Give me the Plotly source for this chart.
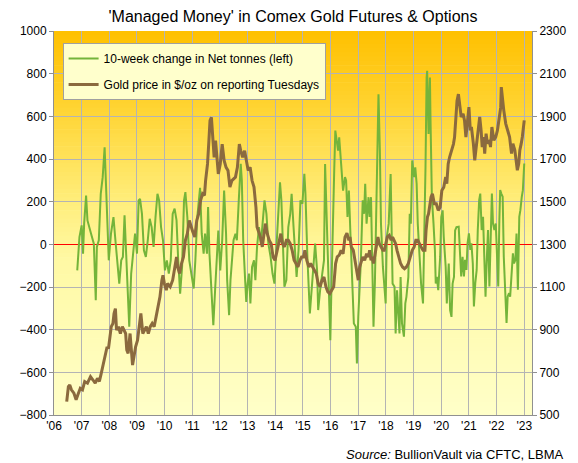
import plotly.graph_objects as go

# 10-week change in Managed Money net position, tonnes (left axis)
green_x = [
    2006.84, 2006.92, 2007.00, 2007.05, 2007.09, 2007.16, 2007.21, 2007.28, 2007.34, 2007.44,
    2007.51, 2007.55, 2007.62, 2007.69, 2007.76, 2007.83, 2007.90, 2007.98, 2008.06, 2008.15,
    2008.22, 2008.29, 2008.36, 2008.43, 2008.49, 2008.55, 2008.61, 2008.68, 2008.72, 2008.79,
    2008.87, 2008.93, 2009.00, 2009.06, 2009.11, 2009.18, 2009.25, 2009.32, 2009.39, 2009.46,
    2009.53, 2009.60, 2009.67, 2009.74, 2009.80, 2009.87, 2009.94, 2010.01, 2010.08, 2010.15,
    2010.22, 2010.29, 2010.36, 2010.43, 2010.49, 2010.56, 2010.63, 2010.70, 2010.75, 2010.82,
    2010.89, 2010.96,
    2011.00, 2011.05, 2011.11, 2011.18, 2011.28, 2011.34, 2011.41, 2011.46, 2011.53, 2011.57,
    2011.62, 2011.69, 2011.76, 2011.83, 2011.90, 2011.94, 2012.01, 2012.08, 2012.15, 2012.22,
    2012.26, 2012.33, 2012.38, 2012.45, 2012.49, 2012.56, 2012.61, 2012.68, 2012.75, 2012.79,
    2012.84, 2012.91, 2012.95, 2013.00, 2013.05, 2013.10, 2013.16, 2013.23, 2013.28, 2013.34,
    2013.41, 2013.48, 2013.54, 2013.61, 2013.68, 2013.75, 2013.83, 2013.90, 2013.97, 2014.03,
    2014.10, 2014.17, 2014.22, 2014.29, 2014.33, 2014.40, 2014.47, 2014.54, 2014.59, 2014.66,
    2014.72, 2014.77, 2014.84, 2014.91, 2014.98, 2015.05, 2015.09, 2015.16, 2015.25, 2015.32,
    2015.39, 2015.44, 2015.51, 2015.55, 2015.62, 2015.69, 2015.76, 2015.80, 2015.85, 2015.92,
    2015.99, 2016.03, 2016.08, 2016.13, 2016.17,
    2016.27, 2016.31, 2016.38, 2016.45, 2016.52, 2016.56, 2016.61, 2016.66, 2016.72, 2016.79,
    2016.84, 2016.91, 2016.95, 2017.00, 2017.05, 2017.09, 2017.16, 2017.21, 2017.25, 2017.30,
    2017.37, 2017.41, 2017.46, 2017.51, 2017.55, 2017.60, 2017.64, 2017.69, 2017.73, 2017.78,
    2017.82, 2017.89, 2017.94, 2017.99, 2018.03, 2018.10, 2018.17, 2018.21, 2018.24, 2018.31,
    2018.35, 2018.40, 2018.44, 2018.49, 2018.53, 2018.58, 2018.65, 2018.70, 2018.74, 2018.81,
    2018.86, 2018.90, 2018.95, 2019.02, 2019.06, 2019.11, 2019.15, 2019.20, 2019.27, 2019.34,
    2019.38, 2019.43, 2019.47, 2019.49, 2019.54, 2019.59, 2019.61, 2019.66, 2019.72, 2019.77,
    2019.80, 2019.84, 2019.89, 2019.96, 2020.00, 2020.05, 2020.09, 2020.16, 2020.20, 2020.27,
    2020.32, 2020.37, 2020.41, 2020.46, 2020.50, 2020.55,
    2020.63, 2020.68, 2020.72, 2020.77, 2020.82, 2020.86, 2020.91, 2020.95, 2021.00, 2021.05,
    2021.09, 2021.14, 2021.18, 2021.23, 2021.28, 2021.32, 2021.37, 2021.41, 2021.46, 2021.51,
    2021.55, 2021.60, 2021.64, 2021.69, 2021.74, 2021.78, 2021.83, 2021.87, 2021.92, 2021.97,
    2022.01, 2022.06, 2022.10, 2022.13, 2022.17, 2022.22, 2022.26, 2022.31, 2022.36, 2022.40,
    2022.45, 2022.49, 2022.54, 2022.59, 2022.63, 2022.68, 2022.72, 2022.77, 2022.82, 2022.86,
    2022.91, 2022.95, 2023.00,
]
green_tonnes = [
    -122, 34, 89, -44, 97, 229, 112, 73, 50, 3,
    -262, -12, 19, 237, 315, 455, 206, -75, 50, 128,
    19, -106, -184, -75, -59, 136, -44, -199, -386, -137,
    -12, 50, -44, 206, 213, 143, -28, -59, 19, 120,
    81, -12, 128, 237, 206, 81, 19, -122, -75, -137,
    -75, 143, 167, 112, -75, -231, -106, 206, 245, 128,
    -75, -137,
    -168, -207, -75, 128, 265, 50, -44, 50, -44, 175,
    -44, -199, -379, -199, -12, 65, -122, 19, 252, 50,
    -168, -332, -168, -44, 19, 50, 19, 206, 377, 299,
    19, -168, -270, -184, -137, -277, -106, -75, -168, -12,
    81, 3, 81, 206, 143, 3, -59, -137, -184, -44,
    159, 291, 206, -75, -199, -168, 81, 143, 237, 81,
    -44, -153, -28, 206, 190, 330, 237, -59, -324, -199,
    -44, 3, -122, -308, -215, -137, -75, 377, 159, -199,
    -449, -199, 19, 346, 533,
    439, 502, 393, 252, 315, 299, 128, 252, 34, -215,
    -371, -386, -558, -340, -215, -90, 206, 143, 284, 97,
    221, 128, 221, -106, -386, -184, 128, 470, 704, 439,
    97, -106, -184, -277, 34, 97, 330, 97, -184, -199,
    -418, -215, -308, -418, -153, -371, -433, -277, -246, -153,
    143, 97, 393, 315, 361, 284, 97, -12, -184, -277,
    -28, 361, 782, 813, 517, 782, 595, 221, 97, -28,
    -184, -153, -215, -59, 128, 159, 34, -106, -277, -90,
    -308, -340, -184, -153, 65, 81,
    83, -58, -151, -58, -151, -73, -120, 5, 51, -26,
    5, -89, -291, -182, -120, 67, 207, 238, 67, 129,
    -73, -245, -89, 67, -198, 67, 238, 98, 67, 98,
    -11, -198, 114, 254, 238, 223, -58, -213, -369, -245,
    -229, -245, -151, -42, -89, -73, 51, -213, 129, 160,
    223, 254, 379,
]

# Gold price on reporting Tuesdays, $/oz (right axis)
gold_x = [
    2006.46, 2006.52, 2006.57, 2006.63, 2006.72, 2006.80, 2006.86, 2006.95, 2007.03, 2007.11,
    2007.21, 2007.32, 2007.41, 2007.49, 2007.57, 2007.64, 2007.71, 2007.78, 2007.85, 2007.92,
    2007.97, 2008.01, 2008.07, 2008.13, 2008.17, 2008.22, 2008.26, 2008.33, 2008.40, 2008.47,
    2008.54, 2008.59, 2008.63, 2008.68, 2008.75, 2008.79, 2008.84, 2008.89, 2008.95, 2009.02,
    2009.09, 2009.14, 2009.21, 2009.28, 2009.34, 2009.41, 2009.48, 2009.55, 2009.62, 2009.69,
    2009.76, 2009.83, 2009.90, 2009.94, 2009.99, 2010.06, 2010.10, 2010.20, 2010.29, 2010.36,
    2010.43, 2010.47, 2010.54, 2010.61, 2010.68, 2010.75, 2010.82, 2010.89, 2010.95,
    2011.02, 2011.09, 2011.16, 2011.23, 2011.30, 2011.37, 2011.44, 2011.48, 2011.55, 2011.60,
    2011.64, 2011.69, 2011.74, 2011.79, 2011.84, 2011.87, 2011.94, 2012.01, 2012.08, 2012.15,
    2012.22, 2012.29, 2012.36, 2012.43, 2012.49, 2012.56, 2012.63, 2012.70, 2012.75, 2012.82,
    2012.89, 2012.95, 2013.02, 2013.09, 2013.16, 2013.23, 2013.30, 2013.34, 2013.39, 2013.46,
    2013.53, 2013.60, 2013.64, 2013.71, 2013.78, 2013.85, 2013.92, 2013.99, 2014.06, 2014.13,
    2014.20, 2014.26, 2014.33, 2014.40, 2014.47, 2014.54, 2014.61, 2014.68, 2014.75, 2014.82,
    2014.89, 2014.95, 2015.02, 2015.07, 2015.14, 2015.21, 2015.28, 2015.34, 2015.41, 2015.48,
    2015.55, 2015.62, 2015.69, 2015.76, 2015.83, 2015.90, 2015.97, 2016.03,
    2016.11, 2016.18, 2016.24, 2016.31, 2016.38, 2016.45, 2016.52, 2016.59, 2016.66, 2016.70,
    2016.75, 2016.82, 2016.86, 2016.93, 2017.00, 2017.05, 2017.09, 2017.16, 2017.23, 2017.30,
    2017.37, 2017.41, 2017.46, 2017.50, 2017.55, 2017.62, 2017.66, 2017.71, 2017.76, 2017.82,
    2017.89, 2017.94, 2018.00, 2018.05, 2018.12, 2018.19, 2018.24, 2018.28, 2018.35, 2018.40,
    2018.47, 2018.53, 2018.60, 2018.67, 2018.74, 2018.81, 2018.88, 2018.95, 2019.02, 2019.08,
    2019.15, 2019.20, 2019.27, 2019.34, 2019.41, 2019.45, 2019.50, 2019.54, 2019.59, 2019.63,
    2019.68, 2019.75, 2019.82, 2019.89, 2019.96, 2020.02, 2020.09, 2020.16, 2020.20, 2020.25,
    2020.30, 2020.37, 2020.44, 2020.48, 2020.53, 2020.57, 2020.62,
    2020.68, 2020.72, 2020.79, 2020.84, 2020.89, 2020.93, 2021.00, 2021.05, 2021.09, 2021.16,
    2021.21, 2021.25, 2021.32, 2021.39, 2021.44, 2021.48, 2021.53, 2021.57, 2021.62, 2021.67,
    2021.74, 2021.78, 2021.83, 2021.90, 2021.97, 2022.03, 2022.10, 2022.15, 2022.17, 2022.22,
    2022.26, 2022.33, 2022.40, 2022.47, 2022.54, 2022.59, 2022.66, 2022.70, 2022.75, 2022.80,
    2022.84, 2022.89, 2022.93, 2023.00,
]
gold_price = [
    563, 633, 641, 618, 602, 571, 594, 625, 618, 657,
    649, 680, 664, 649, 672, 657, 696, 734, 773, 820,
    812, 867, 914, 929, 976, 999, 898, 914, 882, 914,
    898, 882, 805, 789, 882, 789, 734, 773, 820, 851,
    914, 976, 882, 898, 914, 882, 914, 929, 914, 960,
    1007, 1054, 1132, 1155, 1116, 1085, 1116, 1101, 1132, 1194,
    1241, 1194, 1163, 1210, 1241, 1319, 1350, 1412, 1381,
    1358, 1334, 1412, 1443, 1506, 1537, 1529, 1599, 1677, 1786,
    1880, 1895, 1817, 1708, 1786, 1739, 1630, 1677, 1770, 1693,
    1661, 1646, 1568, 1599, 1607, 1615, 1661, 1770, 1739, 1708,
    1739, 1693, 1646, 1661, 1599, 1568, 1474, 1381, 1365, 1334,
    1288, 1350, 1397, 1350, 1319, 1303, 1241, 1225, 1272, 1319,
    1350, 1303, 1288, 1319, 1319, 1303, 1272, 1225, 1210, 1194,
    1225, 1241, 1241, 1272, 1225, 1194, 1210, 1194, 1179, 1163,
    1116, 1101, 1132, 1147, 1101, 1077, 1069, 1085,
    1101, 1210, 1241, 1249, 1272, 1256, 1334, 1353, 1319, 1334,
    1288, 1272, 1241, 1178, 1132, 1194, 1210, 1241, 1225, 1256,
    1241, 1272, 1225, 1241, 1210, 1272, 1303, 1334, 1303, 1288,
    1272, 1272, 1303, 1334, 1342, 1319, 1334, 1319, 1303, 1272,
    1241, 1210, 1194, 1186, 1194, 1210, 1241, 1272, 1288, 1319,
    1319, 1303, 1288, 1272, 1272, 1365, 1428, 1443, 1490, 1521,
    1537, 1490, 1490, 1459, 1474, 1552, 1568, 1615, 1584, 1677,
    1708, 1739, 1770, 1802, 1895, 1973, 2004,
    1928, 1897, 1912, 1881, 1803, 1866, 1943, 1834, 1850, 1772,
    1694, 1741, 1834, 1897, 1834, 1756, 1803, 1725, 1819, 1772,
    1788, 1756, 1850, 1788, 1803, 1834, 1897, 1943, 2037, 1959,
    1928, 1866, 1834, 1803, 1725, 1772, 1741, 1694, 1647, 1678,
    1741, 1772, 1803, 1881,
]

year_ticks = list(range(2006, 2024))
year_labels = ["'%02d" % (y % 100) for y in year_ticks]

FONT = "Arial, 'Liberation Sans', sans-serif"
GRID = "#B4B4B4"
AXIS = "#909090"

fig = go.Figure()
fig.add_trace(go.Scatter(
    x=green_x, y=green_tonnes, mode="lines", name="10-week change in Net tonnes (left)",
    line=dict(color="#74B43A", width=2), legendgroup="a"))
fig.add_trace(go.Scatter(
    x=gold_x, y=gold_price, mode="lines", name="Gold price in $/oz on reporting Tuesdays",
    line=dict(color="#8B6A3E", width=3), yaxis="y2", legendgroup="b"))

# background gradient: orange at the top fading to pale cream at the bottom
stops = [(0.0, (255, 192, 0)), (0.2, (255, 212, 50)), (0.45, (255, 238, 125)),
         (0.6, (255, 249, 165)), (1.0, (255, 255, 200))]
def grad(t):
    for (t0, c0), (t1, c1) in zip(stops[:-1], stops[1:]):
        if t <= t1:
            f = (t - t0) / (t1 - t0)
            return "rgb(%d,%d,%d)" % tuple(round(a + (b - a) * f) for a, b in zip(c0, c1))
    return "rgb(%d,%d,%d)" % stops[-1][1]

shapes = []
n = 90
for i in range(n):
    top = 1000 - 1800 * i / n
    bot = 1000 - 1800 * (i + 1) / n
    shapes.append(dict(type="rect", xref="paper", yref="y", x0=0, x1=1, y0=max(bot - 3, -800), y1=top,
                       fillcolor=grad((i + 0.5) / n), line=dict(width=0), layer="below"))

# the page sits 8px in from the window corner, so size the figure to fit
fig.update_layout(
    width=570, height=455,
    margin=dict(l=31, r=39, t=23, b=48),
    paper_bgcolor="white", plot_bgcolor="#FFFFC8",
    font=dict(family=FONT, size=12, color="black"),
    title=dict(text="'Managed Money' in Comex Gold Futures & Options",
               x=0.5, xref="container", xanchor="center", y=1 - 8 / 455, yanchor="middle",
               font=dict(size=16, family=FONT)),
    shapes=shapes,
    showlegend=True,
    legend=dict(x=0.018, y=0.969, xanchor="left", yanchor="top",
                bgcolor="#FFFFCC", bordercolor="#A0A0A0", borderwidth=1,
                font=dict(size=12, family=FONT), traceorder="grouped", tracegroupgap=7),
    xaxis=dict(range=[2006, 2023.28], tickvals=year_ticks, ticktext=year_labels,
               showgrid=True, gridcolor=GRID, gridwidth=1, zeroline=False,
               showline=True, linecolor=AXIS, ticks="", tickfont=dict(size=12)),
    yaxis=dict(range=[-800, 1000], tick0=-800, dtick=200, showgrid=True, gridcolor=GRID,
               zeroline=True, zerolinecolor="#FF0000", zerolinewidth=1.2,
               showline=True, linecolor=AXIS, ticks="outside", ticklen=4,
               tickcolor=AXIS, tickfont=dict(size=12)),
    yaxis2=dict(range=[500, 2300], tick0=500, dtick=200, overlaying="y", side="right",
                showgrid=False, zeroline=False, showline=True, linecolor=AXIS,
                ticks="outside", ticklen=4, tickcolor=AXIS, tickfont=dict(size=12)),
    annotations=[dict(text="<i>Source:</i> BullionVault via CFTC, LBMA", xref="paper", yref="paper",
                      x=(567 - 31) / 500, y=-39 / 384, xanchor="right", yanchor="middle",
                      showarrow=False, font=dict(size=13, family=FONT))],
)

fig.write_html("out.html")
